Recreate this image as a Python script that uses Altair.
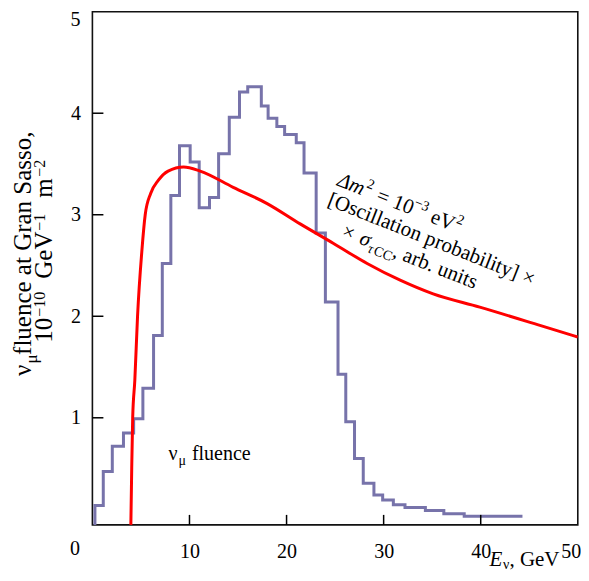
import altair as alt
import pandas as pd

# ---------------- data ----------------
# histogram of nu_mu fluence: bin edges (GeV) and heights (1e-10 GeV^-1 m^-2)
hist_edges = [0.26, 1.12, 2.05, 3.2, 4.25, 5.2, 6.3, 7.2, 8.08, 8.97, 10.07, 11.0,
              12.06, 13.0, 14.1, 15.15, 16.0, 17.4, 18.1, 19.0, 19.8, 21.0, 21.8,
              23.05, 24.0, 25.3, 26.1, 27.0, 27.9, 29.0, 29.9, 31.0, 32.2, 34.3,
              36.2, 38.3, 44.3]
hist_values = [0.136, 0.47, 0.72, 0.85, 0.99, 1.29, 1.81, 2.52, 3.19, 3.68, 3.52,
               3.07, 3.17, 3.6, 3.96, 4.21, 4.26, 4.07, 3.95, 3.87, 3.79, 3.71,
               3.41, 2.82, 2.14, 1.43, 0.96, 0.60, 0.356, 0.24, 0.19, 0.143, 0.116,
               0.087, 0.054, 0.03]

# oscillation probability x sigma curve (arb. units)
curve_e = [3.96, 4.05, 4.15, 4.37, 4.65, 5.1, 5.44, 6.0, 6.8, 7.8, 9.4, 11.1,
           14.5, 18.0, 21.4, 24.8, 28.3, 31.7, 35.1, 39.9, 46.1, 50.0]
curve_v = [-0.055, 0.5, 1.0, 1.37, 2.0, 2.65, 3.0, 3.21, 3.34, 3.43, 3.47, 3.43,
           3.27, 3.11, 2.91, 2.72, 2.52, 2.355, 2.22, 2.09, 1.91, 1.795]

x_tick_labels = [10, 20, 30, 40, 50]
y_tick_labels = [1, 2, 3, 4]
x_inner_ticks = [10, 20, 30, 40]
y_inner_ticks = [1, 2, 3, 4]

X_DOMAIN = [0, 50]
Y_DOMAIN = [-0.055, 5]

W, H = 485.4, 513.2
FONT = "Liberation Serif"
HIST_COLOR = "#7773aa"
CURVE_COLOR = "#ff0000"

xs = alt.Scale(domain=X_DOMAIN, nice=False, zero=False)
ys = alt.Scale(domain=Y_DOMAIN, nice=False, zero=False)
x_axis = alt.Axis(values=x_tick_labels, title=None, domain=False, ticks=False,
                  tickSize=0, grid=False, labelFont=FONT, labelFontSize=20,
                  labelColor="black", labelPadding=17, labelFlush=True,
                  labelFlushOffset=3, labelOverlap=False)
y_axis = alt.Axis(values=y_tick_labels, title=None, domain=False, ticks=False,
                  tickSize=0, grid=False, labelFont=FONT, labelFontSize=20,
                  labelColor="black", labelPadding=12, labelOverlap=False)


def X():
    return alt.X("x:Q", scale=xs, axis=x_axis)


def Y():
    return alt.Y("y:Q", scale=ys, axis=y_axis)


# ---------------- histogram as a step path ----------------
px, py, order = [hist_edges[0]], [Y_DOMAIN[0]], [0]
for i, v in enumerate(hist_values):
    px += [hist_edges[i], hist_edges[i + 1]]
    py += [v, v]
    order += [len(order), len(order) + 1]
hist_df = pd.DataFrame({"x": px, "y": py, "o": order})

hist = alt.Chart(hist_df).mark_line(
    color=HIST_COLOR, strokeWidth=3, strokeJoin="miter", clip=True
).encode(x=X(), y=Y(), order="o:Q")

curve_df = pd.DataFrame({"x": curve_e, "y": curve_v})
curve = alt.Chart(curve_df).mark_line(
    color=CURVE_COLOR, strokeWidth=3, interpolate="monotone", clip=True
).encode(x=X(), y=Y())

# inward ticks
xt = alt.Chart(pd.DataFrame({"x": x_inner_ticks})).mark_rule(
    color="black", strokeWidth=1.5
).encode(x=X(), y=alt.value(H), y2=alt.value(H - 10))
yt = alt.Chart(pd.DataFrame({"y": y_inner_ticks})).mark_rule(
    color="black", strokeWidth=1.5
).encode(y=Y(), x=alt.value(0), x2=alt.value(11))


def dtext(text, x, y, size=21, style="normal", angle=0, dx=0, dy=0):
    """text anchored at data coordinates"""
    return alt.Chart(pd.DataFrame({"x": [x], "y": [y]})).mark_text(
        text=text, font=FONT, fontSize=size, fontStyle=style, angle=angle,
        dx=dx, dy=dy, align="left", baseline="alphabetic", color="black"
    ).encode(x=X(), y=Y())


def ptext(text, x, y, size=20, style="normal", angle=0, dx=0, dy=0, align="left"):
    """text anchored at pixel positions relative to the plot area"""
    return alt.Chart(pd.DataFrame({"a": [0]})).mark_text(
        text=text, font=FONT, fontSize=size, fontStyle=style, angle=angle,
        dx=dx, dy=dy, align=align, baseline="alphabetic", color="black"
    ).encode(x=alt.value(x), y=alt.value(y))


texts = []
# nu_mu fluence label
texts += [
    dtext("ν", 7.84, 0.584, size=20),
    dtext("μ", 7.84, 0.584, size=14, dx=10, dy=5),
    dtext("fluence", 7.84, 0.584, size=20, dx=23.4),
]
# rotated annotation
A = 21.5
texts += [
    dtext("Δm", 25.11, 3.29, style="italic", angle=A),
    dtext("2", 25.11, 3.29, size=14, angle=A, dx=28.5, dy=-9),
    dtext("= 10", 25.11, 3.29, angle=A, dx=42),
    dtext("−3", 25.11, 3.29, size=14, angle=A, dx=79.5, dy=-9),
    dtext("eV", 25.11, 3.29, angle=A, dx=100),
    dtext("2", 25.11, 3.29, size=14, angle=A, dx=125, dy=-9),
    dtext("[Oscillation probability] ×", 24.12, 3.096, angle=A),
    dtext("×", 25.57, 2.788, angle=A),
    dtext("σ", 25.57, 2.788, style="italic", angle=A, dx=19),
    dtext("τ", 25.57, 2.788, size=14, style="italic", angle=A, dx=30, dy=5),
    dtext("CC", 25.57, 2.788, size=14, angle=A, dx=36.5, dy=5),
    dtext(", arb. units", 25.57, 2.788, angle=A, dx=55),
]
# x axis title
TX, TY = 397.0, 554.5
texts += [
    ptext("E", TX, TY, size=21, style="italic"),
    ptext("ν", TX, TY, size=14, dx=13.5, dy=2.5),
    ptext(", GeV", TX, TY, size=21, dx=20),
]
# corner zero and top y label
texts += [
    ptext("0", -17.4, 543.3, align="center"),
    ptext("5", -12, 14.0, align="right"),
]
# y axis title (rotated)
L1x, L1y = -61.9, 364.2
L2x, L2y = -40.9, 331.0
texts += [
    ptext("ν", L1x, L1y, size=25, angle=270),
    ptext("μ", L1x, L1y, size=17, angle=270, dx=12.5, dy=6),
    ptext(" fluence at Gran Sasso,", L1x, L1y, size=25, angle=270, dx=21),
    ptext("10", L2x, L2y, size=25, angle=270),
    ptext("−10", L2x, L2y, size=16, angle=270, dx=26, dy=-7),
    ptext("GeV", L2x, L2y, size=25, angle=270, dx=64),
    ptext("−1", L2x, L2y, size=16, angle=270, dx=112, dy=-7),
    ptext("m", L2x, L2y, size=25, angle=270, dx=145),
    ptext("−2", L2x, L2y, size=16, angle=270, dx=166, dy=-7),
]

chart = alt.layer(hist, curve, xt, yt, *texts).properties(
    width=W, height=H,
    padding={"left": 84.4, "top": 3.7, "right": 3, "bottom": 48},
    autosize=alt.AutoSizeParams(type="none"),
    background="white",
).configure_view(
    stroke="#111111", strokeWidth=1.6
)

chart.save("out.html", embed_options={"renderer": "svg", "actions": False})
